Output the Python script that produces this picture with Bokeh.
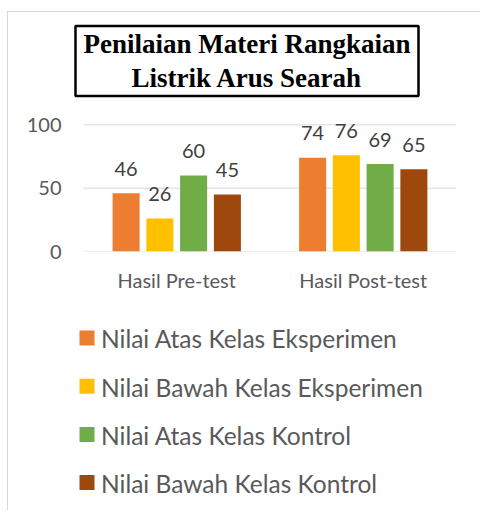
from bokeh.plotting import figure
from bokeh.layouts import column
from bokeh.models import (ColumnDataSource, FactorRange, Range1d, FixedTicker,
                          LabelSet, Label)
from bokeh.core.properties import value
from bokeh.transform import dodge
from bokeh.embed import file_html
from bokeh.resources import INLINE

# ---- data ----
categories = ["Hasil Pre-test", "Hasil Post-test"]
series_names = ["Nilai Atas Kelas Eksperimen", "Nilai Bawah Kelas Eksperimen",
                "Nilai Atas Kelas Kontrol", "Nilai Bawah Kelas Kontrol"]
atas_eksperimen = [46, 74]
bawah_eksperimen = [26, 76]
atas_kontrol = [60, 69]
bawah_kontrol = [45, 65]
y_ticks = [0, 50, 100]
title_text = "Penilaian Materi Rangkaian\nListrik Arus Searah"

# ---- styles ----
colors = ["#ED7D31", "#FFC000", "#70AD47", "#9E480E"]
offsets = [-0.2715, -0.0905, 0.0905, 0.2715]
bar_width = 0.145
FONT = "Lato"
W = 472
BL, BR = 54, 3   # shared horizontal borders (frames are aligned in the column)

series_values = [atas_eksperimen, bawah_eksperimen, atas_kontrol, bawah_kontrol]
keys = ["s0", "s1", "s2", "s3"]
data = {"cat": categories}
for k, v in zip(keys, series_values):
    data[k] = v
    data[k + "_lbl"] = [str(x) for x in v]
source = ColumnDataSource(data)


def blank(height, x_range, y_range):
    f = figure(width=W, height=height, output_backend="svg", toolbar_location=None,
               x_range=x_range, y_range=y_range, title=None,
               min_border_left=BL, min_border_right=BR,
               min_border_top=0, min_border_bottom=0)
    f.axis.visible = False
    f.grid.visible = False
    f.outline_line_color = None
    return f


# ---- title figure ----
pt = blank(88, Range1d(0, 1), Range1d(0, 1))
pt.add_layout(Label(x=184.5, y=39.5, x_units="screen", y_units="screen",
                    text=title_text, text_align="center", text_baseline="middle",
                    text_font="Liberation Serif", text_font_style="bold",
                    text_font_size="27px", text_line_height=1.14, text_color="black",
                    border_line_color="black", border_line_width=2.5,
                    background_fill_color="white", padding=(8, 3)))

# ---- main chart ----
p = figure(x_range=FactorRange(*categories, range_padding=0.1126,
                               range_padding_units="absolute"),
           y_range=Range1d(0, 119.2),
           width=W, height=210, output_backend="svg", toolbar_location=None,
           min_border_left=BL, min_border_right=BR, min_border_top=0,
           min_border_bottom=59, title=None)
p.outline_line_color = None

grid_src = ColumnDataSource(dict(x0=[categories[0]] * len(y_ticks),
                                 x1=[categories[-1]] * len(y_ticks),
                                 y=y_ticks))
p.segment(x0=dodge("x0", -0.5, range=p.x_range), x1=dodge("x1", 0.5, range=p.x_range),
          y0="y", y1="y", source=grid_src, line_color="#d9d9d9", line_width=1,
          level="underlay")

for k, col, off in zip(keys, colors, offsets):
    xd = dodge("cat", off, range=p.x_range)
    p.vbar(x=xd, top=k, width=bar_width, source=source,
           fill_color=col, line_color=None)
    p.add_layout(LabelSet(x=xd, y=k, text=k + "_lbl", source=source,
                          y_offset=17.5, text_align="center",
                          text_baseline="alphabetic", text_font=value(FONT),
                          text_font_size=value("20px"), text_color="#404040"))

p.yaxis.ticker = FixedTicker(ticks=y_ticks)
p.yaxis.axis_line_color = None
p.yaxis.major_tick_line_color = None
p.yaxis.minor_tick_line_color = None
p.yaxis.major_tick_out = 0
p.yaxis.major_tick_in = 0
p.yaxis.major_label_standoff = 1
p.yaxis.major_label_text_font = FONT
p.yaxis.major_label_text_font_size = "20px"
p.yaxis.major_label_text_color = "#595959"

p.xaxis.axis_line_color = None
p.xaxis.major_tick_line_color = None
p.xaxis.major_tick_out = 0
p.xaxis.major_tick_in = 0
p.xaxis.major_label_standoff = 16
p.xaxis.major_label_text_font = FONT
p.xaxis.major_label_text_font_size = "20px"
p.xaxis.major_label_text_color = "#595959"

p.grid.visible = False

# ---- legend figure ----
# one px per unit horizontally; rows indexed 0..3 from the top
pl = blank(200, Range1d(-24.5, 390.5), Range1d(3.579, -0.5705))
leg_src = ColumnDataSource(dict(row=list(range(len(series_names))),
                                col0=[0] * len(series_names),
                                name=series_names, color=colors))
pl.scatter(x="col0", y="row", marker="square", size=15, source=leg_src,
           fill_color="color", line_color=None)
pl.add_layout(LabelSet(x="col0", y="row", text="name", source=leg_src,
                       x_offset=14, y_offset=-1, text_align="left",
                       text_baseline="middle", text_font=value(FONT),
                       text_font_size=value("24.5px"), text_color="#595959"))

layout = column(pt, p, pl, spacing=0, margin=(11, 0, 0, 7),
                styles={"border-left": "1px solid #d9d9d9",
                        "border-top": "1px solid #d9d9d9"})

open("out.html", "w").write(file_html(layout, INLINE))
